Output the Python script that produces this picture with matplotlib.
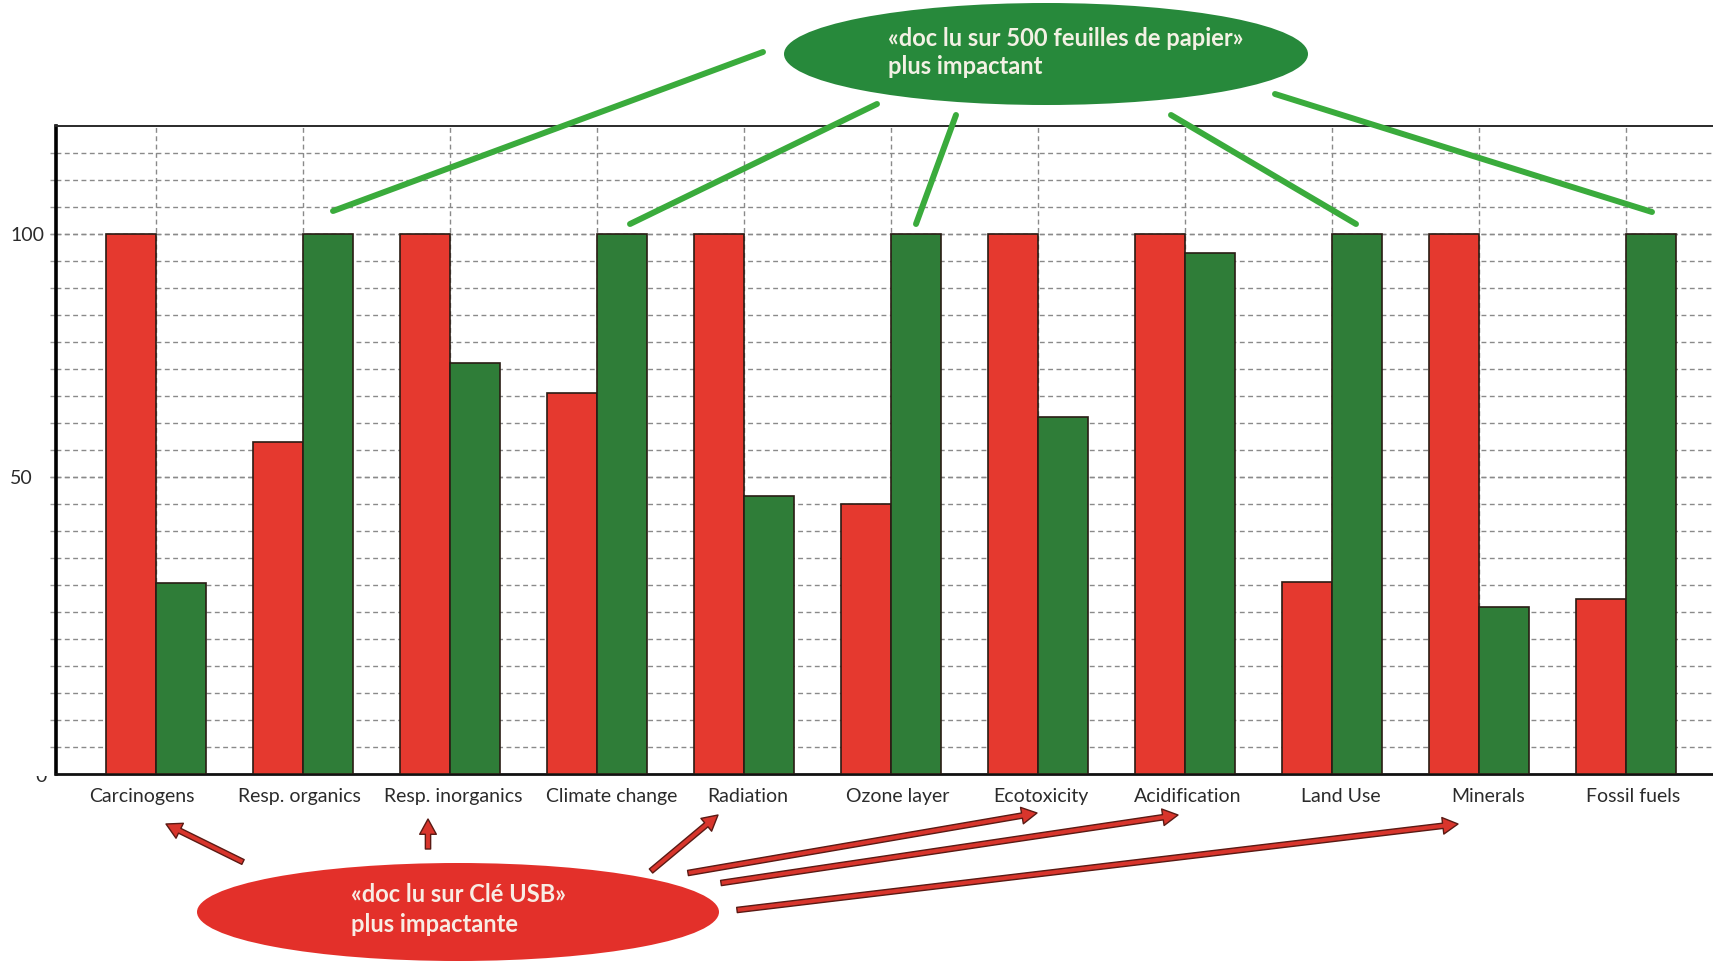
import numpy as np
import matplotlib
matplotlib.use("Agg")
import matplotlib.pyplot as plt
from matplotlib.patches import Ellipse, FancyArrowPatch, ArrowStyle
from matplotlib.transforms import Bbox, ScaledTranslation

# ---------------- data ----------------
categories = ["Carcinogens", "Resp. organics", "Resp. inorganics", "Climate change",
              "Radiation", "Ozone layer", "Ecotoxicity", "Acidification",
              "Land Use", "Minerals", "Fossil fuels"]
usb_values = [100, 61.5, 100, 70.5, 100, 50.0, 100, 100, 35.5, 100, 32.5]
paper_values = [35.4, 100, 76.1, 100, 51.4, 100, 66.1, 96.5, 100, 30.9, 100]
ytick_labels = ["50", "100"]
ytick_values = [55, 100]          # where the labels sit in the reference picture
paper_lines = ["«doc lu sur 500 feuilles de papier»", "plus impactant"]
usb_lines = ["«doc lu sur Clé USB»", "plus impactante"]

# ---------------- style ----------------
W, H = 1713, 967
RED = "#e5392f"
GREEN = "#2f7d38"
EDGE = "#2a1c14"
GRID = "#8a8a8a"
ELL_GREEN = "#27893b"
ELL_RED = "#e3302a"
LINE_GREEN = "#3aab3c"
ARROW_RED = "#d8352c"
ARROW_EDGE = "#5a1a14"
FONT = "Lato"
# horizontal nudges (px) of category labels, as placed in the reference
label_nudge_px = [-14, -4, 3, 15, 4, 7, 3, 3, 9, 9, 7]

plt.rcParams["font.family"] = [FONT, "DejaVu Sans"]

fig = plt.figure(figsize=(W / 100, H / 100), dpi=100)
fig.patch.set_facecolor("white")

# main axes (pixel geometry of the reference)
ax_left, ax_right, ax_bottom, ax_top = 56, 1733, 774, 126
ax = fig.add_axes([ax_left / W, 1 - ax_bottom / H, (ax_right - ax_left) / W,
                   (ax_bottom - ax_top) / H])
pitch = 147.0
x = np.arange(len(categories))
bw = 50 / pitch
ax.bar(x - bw / 2, usb_values, bw, color=RED, edgecolor=EDGE, linewidth=1.2, zorder=3)
ax.bar(x + bw / 2, paper_values, bw, color=GREEN, edgecolor=EDGE, linewidth=1.2, zorder=3)
ax.set_xlim((ax_left - 156) / pitch, (ax_right - 156) / pitch)
ax.set_ylim(0, 120)

ax.set_xticks(x)
ax.set_xticklabels(categories)
ax.set_yticks(ytick_values)
ax.set_yticklabels(ytick_labels)
ax.set_yticks(np.arange(5, 120, 5), minor=True)
ax.yaxis.remove_overlapping_locs = False

gl = dict(color=GRID, linestyle=(0, (3.5, 2.5)), linewidth=1.0, zorder=1)
ax.grid(axis="y", which="both", **gl)
ax.grid(axis="x", which="major", **gl)
ax.set_axisbelow(True)

ax.tick_params(axis="x", length=0, pad=10, labelsize=14, labelcolor="#2b2b2b")
ax.tick_params(axis="y", which="both", length=4, width=1, color="#9a9a9a",
               direction="out")
ax.tick_params(axis="y", which="major", labelsize=14, labelcolor="#2b2b2b", pad=29)
for lbl in ax.get_yticklabels():
    lbl.set_horizontalalignment("left")
for lbl, dx in zip(ax.get_xticklabels(), label_nudge_px):
    lbl.set_transform(lbl.get_transform()
                      + ScaledTranslation(dx / 100, 0, fig.dpi_scale_trans))

ax.spines["right"].set_visible(False)
ax.spines["left"].set_linewidth(2.6)
ax.spines["left"].set_color("black")
ax.spines["bottom"].set_linewidth(2.0)
ax.spines["bottom"].set_color("#111111")
ax.spines["top"].set_linewidth(1.4)
ax.spines["top"].set_color("#2a2a2a")

# clipped "0" label at bottom-left
zt = fig.text(41 / W, 1 - 782 / H, "0", ha="center", va="baseline", fontsize=14,
              color="#2b2b2b")
zt.set_clip_on(True)
zt.set_clip_box(Bbox.from_extents(25, H - 795, 55, H - 776))

# ---------------- overlay annotations (pixel coordinates) ----------------
ov = fig.add_axes([0, 0, 1, 1])
ov.set_xlim(0, W)
ov.set_ylim(H, 0)
ov.axis("off")
ov.patch.set_visible(False)
ov.set_zorder(5)

# green callout
ov.add_patch(Ellipse((1046, 54), 524, 102, facecolor=ELL_GREEN, edgecolor="none"))
ov.text(888, 38, paper_lines[0], ha="left", va="center", fontsize=17,
        fontweight="bold", color="#f3f1e4")
ov.text(888, 67, paper_lines[1], ha="left", va="center", fontsize=17,
        fontweight="bold", color="#f3f1e4")
green_segments = [((763, 52), (333, 211)),
                  ((877, 104), (630, 224)),
                  ((956, 115), (916, 224)),
                  ((1171, 115), (1356, 224)),
                  ((1275, 94), (1652, 212))]
for (x0, y0), (x1, y1) in green_segments:
    ov.plot([x0, x1], [y0, y1], color=LINE_GREEN, lw=4.3, solid_capstyle="round")

# red callout
ov.add_patch(Ellipse((458, 912), 522, 98, facecolor=ELL_RED, edgecolor="none"))
ov.text(351, 895, usb_lines[0], ha="left", va="center", fontsize=17,
        fontweight="bold", color="#f8ece4")
ov.text(351, 925, usb_lines[1], ha="left", va="center", fontsize=17,
        fontweight="bold", color="#f8ece4")
red_arrows = [((243, 862), (166, 824)),
              ((428, 849), (428, 819)),
              ((651, 871), (718, 815)),
              ((688, 873), (1037, 813)),
              ((721, 883), (1178, 815)),
              ((737, 910), (1458, 824))]
style = ArrowStyle("Simple", head_length=1.1, head_width=1.2, tail_width=0.38)
for a, b in red_arrows:
    ov.add_patch(FancyArrowPatch(a, b, arrowstyle=style, mutation_scale=10,
                                 facecolor=ARROW_RED, edgecolor=ARROW_EDGE,
                                 linewidth=1.0, shrinkA=0, shrinkB=0))

fig.savefig("out.png", dpi=100)
